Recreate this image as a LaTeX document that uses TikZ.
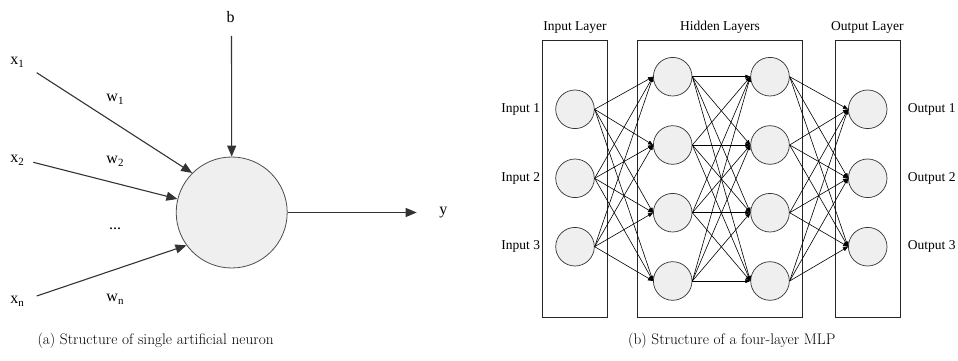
\documentclass[tikz,border=0pt]{standalone}
\usepackage{fontspec}
\usetikzlibrary{arrows.meta}
\newfontfamily\tnr{Liberation Serif}
\newcommand{\sbs}[1]{\raisebox{-0.4ex}{\fontsize{11}{11}\selectfont #1}}
\definecolor{cellfill}{HTML}{EFEFEF}
\definecolor{linegray}{HTML}{333333}
\tikzset{
  lbl/.style={font=\tnr\fontsize{16}{18}\selectfont, inner sep=0pt},
  nlbl/.style={font=\tnr\fontsize{13.5}{15}\selectfont, inner sep=0pt},
  caption/.style={font=\fontsize{15.3}{18}\selectfont, inner sep=0pt, anchor=west},
  soma/.style={circle, draw=black!70, fill=cellfill, line width=0.8pt, minimum size=111pt, inner sep=0pt},
  unit/.style={circle, draw=black!80, fill=cellfill, line width=0.7pt, minimum size=38.6pt, inner sep=0pt},
  bigarrow/.style={draw=linegray, line width=1.1pt, -{Triangle[length=11pt,width=9pt]}},
  link/.style={draw=black, line width=0.6pt, -{Triangle[length=5pt,width=4pt]}},
  layerbox/.style={draw=black!85, line width=0.9pt}
}
\begin{document}
\begin{tikzpicture}[x=1pt,y=-1pt]
\useasboundingbox (0,0) rectangle (958,361);

% ---- single neuron ----
\node[soma] (soma) at (231.7,212.5) {};
\node[lbl] (b) at (230.7,16.7) {b};
\coordinate (bs) at (231.5,36);
\draw[bigarrow] (bs) -- (soma.north);

\node[lbl] (x1) at (17,62) {x\sbs{1}};
\node[lbl] (x2) at (17,160) {x\sbs{2}};
\node[lbl] (xn) at (17,301.7) {x\sbs{n}};
\coordinate (x1s) at (36.7,72.7);
\coordinate (x2s) at (33.3,162.3);
\coordinate (xns) at (36.7,296);
\draw[bigarrow] (x1s) -- (soma.135.6);
\draw[bigarrow] (x2s) -- (soma.166);
\draw[bigarrow] (xns) -- (soma.216.4);

\node[lbl] (w1) at (115,99) {w\sbs{1}};
\node[lbl] (w2) at (115,161.7) {w\sbs{2}};
\node[lbl] (dots) at (115,229) {...};
\node[lbl] (wn) at (115,299) {w\sbs{n}};

\coordinate (yend) at (416.7,212.5);
\draw[bigarrow] (soma.east) -- (yend);
\node[lbl] (y) at (443.3,213) {y};

% ---- multilayer perceptron ----
\draw[layerbox] (542.3,40.7) rectangle (607.3,317.3);
\draw[layerbox] (637.7,40.7) rectangle (802.3,317.3);
\draw[layerbox] (835,40.7) rectangle (900,317.3);
\node[nlbl] (tin) at (575,27.3) {Input Layer};
\node[nlbl] (thid) at (720,27.3) {Hidden Layers};
\node[nlbl] (tout) at (867.3,27.3) {Output Layer};

\foreach \i/\y in {1/109.3,2/178.3,3/246.7} {
  \node[unit] (i\i) at (575,\y) {};
  \node[unit] (o\i) at (867.7,\y) {};
  \node[nlbl] (li\i) at (520.7,\y) {Input \i};
  \node[nlbl] (lo\i) at (931.7,\y) {Output \i};
}
\foreach \j/\y in {1/76.7,2/145,3/212.7,4/281} {
  \node[unit] (h\j) at (672.7,\y) {};
  \node[unit] (g\j) at (770,\y) {};
}
\foreach \i in {1,2,3} \foreach \j in {1,2,3,4}
  \draw[link] (i\i.east) -- (h\j.west);
\foreach \i in {1,2,3,4} \foreach \j in {1,2,3,4}
  \draw[link] (h\i.east) -- (g\j.west);
\foreach \i in {1,2,3,4} \foreach \j in {1,2,3}
  \draw[link] (g\i.east) -- (o\j.west);

% ---- captions ----
\node[caption] (capa) at (37.3,341) {(a) Structure of single artificial neuron};
\node[caption] (capb) at (628,341) {(b) Structure of a four-layer MLP};
\end{tikzpicture}
\end{document}
